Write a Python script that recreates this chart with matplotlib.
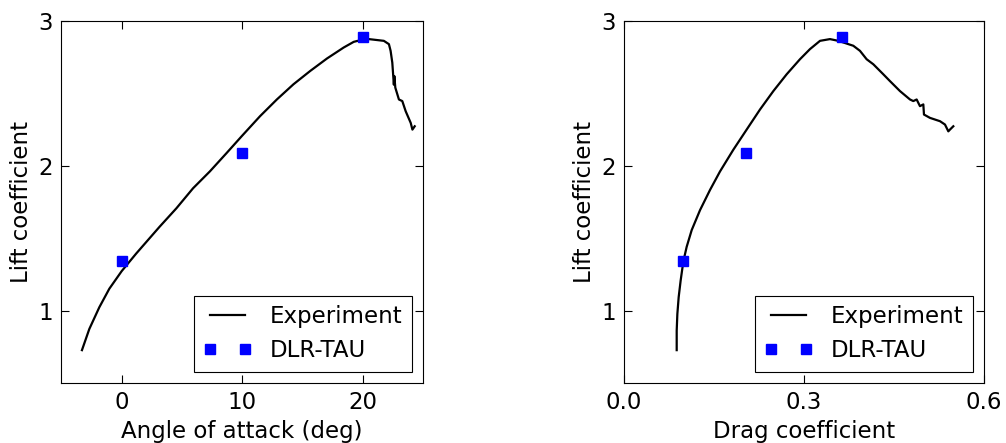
import matplotlib
matplotlib.use('Agg')
import matplotlib.pyplot as plt

# Experiment: lift vs angle of attack
exp_alpha = [-3.30, -2.69, -1.86, -1.03, 0.0, 1.20, 3.14, 4.53, 5.92, 7.31, 8.70, 9.95,
             11.48, 12.87, 14.25, 15.64, 17.03, 18.42, 19.25, 19.53, 20.5, 21.75, 22.17,
             22.31, 22.45, 22.58, 22.62, 22.70, 23.0, 23.28, 23.56, 23.98, 24.12, 24.31]
exp_cl_a = [0.727, 0.873, 1.023, 1.151, 1.273, 1.394, 1.579, 1.706, 1.845, 1.961, 2.088, 2.204,
            2.343, 2.458, 2.563, 2.655, 2.741, 2.817, 2.856, 2.862, 2.875, 2.863, 2.840,
            2.794, 2.713, 2.560, 2.620, 2.540, 2.458, 2.447, 2.377, 2.296, 2.250, 2.273]

# Experiment: lift vs drag
exp_cd = [0.0878, 0.0878, 0.0889, 0.0911, 0.0944, 0.0989, 0.1044, 0.1128, 0.1267, 0.1433,
          0.160, 0.1822, 0.2044, 0.2267, 0.2489, 0.2711, 0.2933, 0.310, 0.3267, 0.3433,
          0.3572, 0.3822, 0.3933, 0.4044, 0.4156, 0.4322, 0.4433, 0.460, 0.4767, 0.4822,
          0.4878, 0.4933, 0.4989, 0.500, 0.510, 0.5267, 0.535, 0.5406, 0.5433, 0.5489]
exp_cl_d = [0.727, 0.861, 0.977, 1.093, 1.208, 1.340, 1.440, 1.556, 1.694, 1.833,
            1.961, 2.111, 2.250, 2.389, 2.516, 2.632, 2.736, 2.806, 2.863, 2.875,
            2.863, 2.829, 2.794, 2.736, 2.701, 2.632, 2.585, 2.516, 2.458, 2.447,
            2.458, 2.412, 2.424, 2.354, 2.331, 2.308, 2.285, 2.238, 2.250, 2.273]

# DLR-TAU
tau_alpha = [0, 10, 20]
tau_cd = [0.099, 0.204, 0.364]
tau_cl = [1.34, 2.09, 2.89]

plt.rcParams['font.size'] = 16.5
plt.rcParams['font.family'] = 'DejaVu Sans'

fig = plt.figure(figsize=(10.06, 4.43), dpi=100)
ax1 = fig.add_axes([0.0611, 0.1354, 0.3594, 0.8172])
ax2 = fig.add_axes([0.6203, 0.1354, 0.3578, 0.8172])

for ax, xe, ye, xt in [(ax1, exp_alpha, exp_cl_a, tau_alpha), (ax2, exp_cd, exp_cl_d, tau_cd)]:
    ax.plot(xe, ye, color='k', linewidth=1.6, label='Experiment')
    ax.plot(xt, tau_cl, linestyle='none', marker='s', markersize=7.2,
            color='#0000ff', markeredgecolor='#0000ff', label='DLR-TAU')
    ax.set_ylim(0.5, 3)
    ax.set_yticks([1, 2, 3])
    ax.set_ylabel('Lift coefficient')
    ax.tick_params(direction='in', top=True, right=True, length=5.5, width=0.8, pad=6)
    leg = ax.legend(loc='lower right', numpoints=2, handlelength=2.1, handletextpad=0.8,
                    fancybox=False, framealpha=1, edgecolor='k', borderpad=0.4,
                    labelspacing=0.5)
    leg.get_frame().set_linewidth(0.8)

ax1.set_xlim(-5, 25)
ax1.set_xticks([0, 10, 20])
ax1.set_xlabel('Angle of attack (deg)')

ax2.set_xlim(0, 0.6)
ax2.set_xticks([0.0, 0.3, 0.6])
ax2.set_xticklabels(['0.0', '0.3', '0.6'])
ax2.set_xlabel('Drag coefficient')

fig.savefig('out.png', dpi=100)
